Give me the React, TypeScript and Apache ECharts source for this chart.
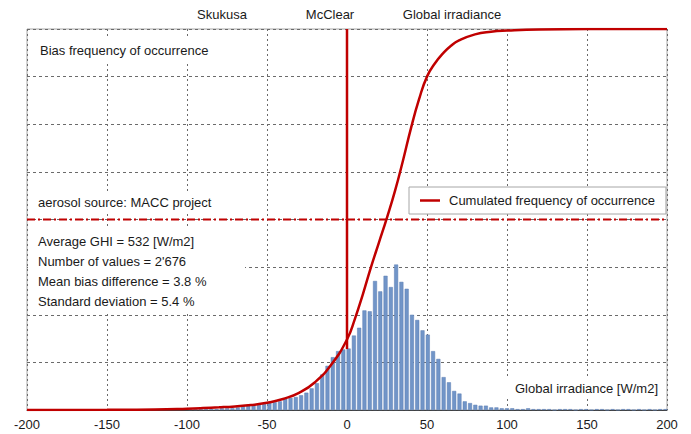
import { useEffect, useRef } from "react";
import * as echarts from "echarts";

// Bias histogram: bin centres in W/m2 and number of values per bin
const BIN_WIDTH = 3.3;
const FIRST_BIN_CENTER = -98;
const BIN_COUNTS = [
  1, 1, 1, 1, 1, 1, 2, 2, 2, 3, 5, 5, 6, 7, 7, 9, 9, 10, 13, 14, 15, 17, 20, 25, 31, 41, 51, 61, 68, 70,
  71, 86, 95, 115, 114, 149, 137, 155, 142, 168, 148, 140, 110, 104, 92, 87, 68, 59, 38, 32, 22, 19, 10, 8, 6, 5, 5, 3, 3, 2, 2, 2,
  1, 1, 2, 1, 1, 1, 1, 0, 1, 1, 1, 0, 1, 1, 0, 1, 1, 0, 1, 0, 1, 1, 0, 1, 0, 1, 0, 1, 1,
];

// Cumulated frequency of occurrence (%)
const CUM_X = [-200, -150, -120, -100, -90, -80, -70, -60, -50, -40, -30, -20, -10, 0, 5, 10, 15, 20, 25, 30, 35, 40, 45, 50, 55, 60, 65, 70, 80, 90, 100, 120, 150, 200];
const CUM_Y = [0, 0.05, 0.15, 0.35, 0.5, 0.7, 0.95, 1.3, 1.9, 2.9, 4.5, 7.3, 11.8, 18.5, 24, 30.5, 37.5, 44, 50.5, 57.5, 65.5, 74, 81.5, 87.5, 91, 93.6, 95.6, 97, 98.6, 99.3, 99.6, 99.9, 100, 100];

// McClear zero-bias marker and the 50 % level
const ZERO_LINE: [number, number][] = [[0, 16], [0, 100]];
const HALF_LINE: [number, number][] = [[-200, 50], [200, 50]];

const TITLE_PARTS = ["Skukusa", "McClear", "Global irradiance"];
const STATS_LINES = [
  "Average GHI = 532 [W/m2]",
  "Number of values = 2'676",
  "Mean bias difference = 3.8 %",
  "Standard deviation = 5.4 %",
];

const RED = "#c00000";
const FONT = "'Liberation Sans', Arial, sans-serif";

export default function App() {
  const ref = useRef<HTMLDivElement>(null);

  useEffect(() => {
    if (!ref.current) return;
    const chart = echarts.init(ref.current, null, { renderer: "svg" });

    const histData = BIN_COUNTS.map((c, i) => [FIRST_BIN_CENTER + i * BIN_WIDTH, c]);
    const cumData = CUM_X.map((x, i) => [x, CUM_Y[i]]);

    const textStyle = (text: string, extra: any = {}) => ({
      text,
      font: `13px ${FONT}`,
      fill: "#1a1a1a",
      ...extra,
    });

    const titleX = [222, 330, 452];

    chart.setOption({
      animation: false,
      backgroundColor: "#fff",
      textStyle: { fontFamily: FONT },
      grid: {
        left: 27,
        right: 24,
        top: 29,
        bottom: 24,
        show: true,
        borderColor: "#a6a6a6",
        borderWidth: 1,
        containLabel: false,
      },
      legend: {
        data: [{ name: "Cumulated frequency of occurrence", icon: "rect" }],
        left: 409,
        top: 187,
        itemWidth: 20,
        itemHeight: 2.5,
        itemGap: 0,
        padding: [7, 11, 7, 11],
        backgroundColor: "#fff",
        borderColor: "#a6a6a6",
        borderWidth: 1,
        textStyle: { fontSize: 13, fontFamily: FONT, color: "#1a1a1a", padding: [0, 0, 0, 4] },
      },
      xAxis: {
        type: "value",
        min: -200,
        max: 200,
        interval: 50,
        axisLine: { show: true, onZero: false, lineStyle: { color: "#404040", width: 1 } },
        axisTick: { show: false },
        axisLabel: { fontSize: 13, color: "#1a1a1a", margin: 8, fontFamily: FONT },
        splitLine: { show: true, lineStyle: { color: "#6b6b6b", type: [2, 3], width: 1 } },
      },
      yAxis: [
        {
          type: "value",
          min: 0,
          max: 100,
          interval: 12.5,
          axisLabel: { show: false },
          axisLine: { show: false },
          axisTick: { show: false },
          splitLine: { show: true, lineStyle: { color: "#6b6b6b", type: [3, 3], width: 1 } },
        },
        {
          type: "value",
          min: 0,
          max: 440,
          show: false,
          splitLine: { show: false },
        },
      ],
      graphic: [
        ...TITLE_PARTS.map((t, i) => ({
          type: "text",
          x: titleX[i],
          y: 14,
          style: textStyle(t, { textAlign: "center", textVerticalAlign: "middle" }),
        })),
        {
          type: "rect",
          z: 1,
          shape: { x: 29, y: 38, width: 196, height: 24 },
          style: { fill: "#fff" },
        },
        {
          type: "text",
          z: 2,
          x: 40,
          y: 50,
          style: textStyle("Bias frequency of occurrence", { textVerticalAlign: "middle" }),
        },
        {
          type: "rect",
          z: 1,
          shape: { x: 29, y: 191, width: 196, height: 23 },
          style: { fill: "#fff" },
        },
        {
          type: "text",
          z: 2,
          x: 38,
          y: 202,
          style: textStyle("aerosol source: MACC project", { textVerticalAlign: "middle" }),
        },
        {
          type: "rect",
          z: 1,
          shape: { x: 28, y: 226, width: 217, height: 88 },
          style: { fill: "#fff" },
        },
        ...STATS_LINES.map((t, i) => ({
          type: "text",
          z: 2,
          x: 38,
          y: 241 + i * 20.3,
          style: textStyle(t, { textVerticalAlign: "middle" }),
        })),
        {
          type: "rect",
          z: 1,
          shape: { x: 504, y: 378, width: 160, height: 21 },
          style: { fill: "#fff" },
        },
        {
          type: "text",
          z: 2,
          x: 658,
          y: 388,
          style: textStyle("Global irradiance [W/m2]", { textAlign: "right", textVerticalAlign: "middle" }),
        },
      ],
      series: [
        {
          name: "Bias frequency",
          type: "bar",
          yAxisIndex: 1,
          data: histData,
          barWidth: 4,
          itemStyle: { color: "#7195c8", borderColor: "#5a7db3", borderWidth: 0.5 },
          z: 3,
        },
        {
          name: "Cumulated frequency of occurrence",
          type: "line",
          yAxisIndex: 0,
          data: cumData,
          smooth: 0.5,
          showSymbol: false,
          lineStyle: { color: RED, width: 2.5 },
          itemStyle: { color: RED },
          z: 5,
        },
        {
          name: "McClear",
          type: "line",
          yAxisIndex: 0,
          data: ZERO_LINE,
          showSymbol: false,
          lineStyle: { color: RED, width: 2.5 },
          z: 6,
        },
        {
          name: "Median",
          type: "line",
          yAxisIndex: 0,
          data: HALF_LINE,
          showSymbol: false,
          lineStyle: { color: RED, width: 2, type: [8, 3, 2, 3] },
          z: 4,
        },
      ],
    });

    return () => chart.dispose();
  }, []);

  return (
    <div
      ref={ref}
      style={{ position: "fixed", left: 0, top: 0, width: 691, height: 434 }}
    />
  );
}
